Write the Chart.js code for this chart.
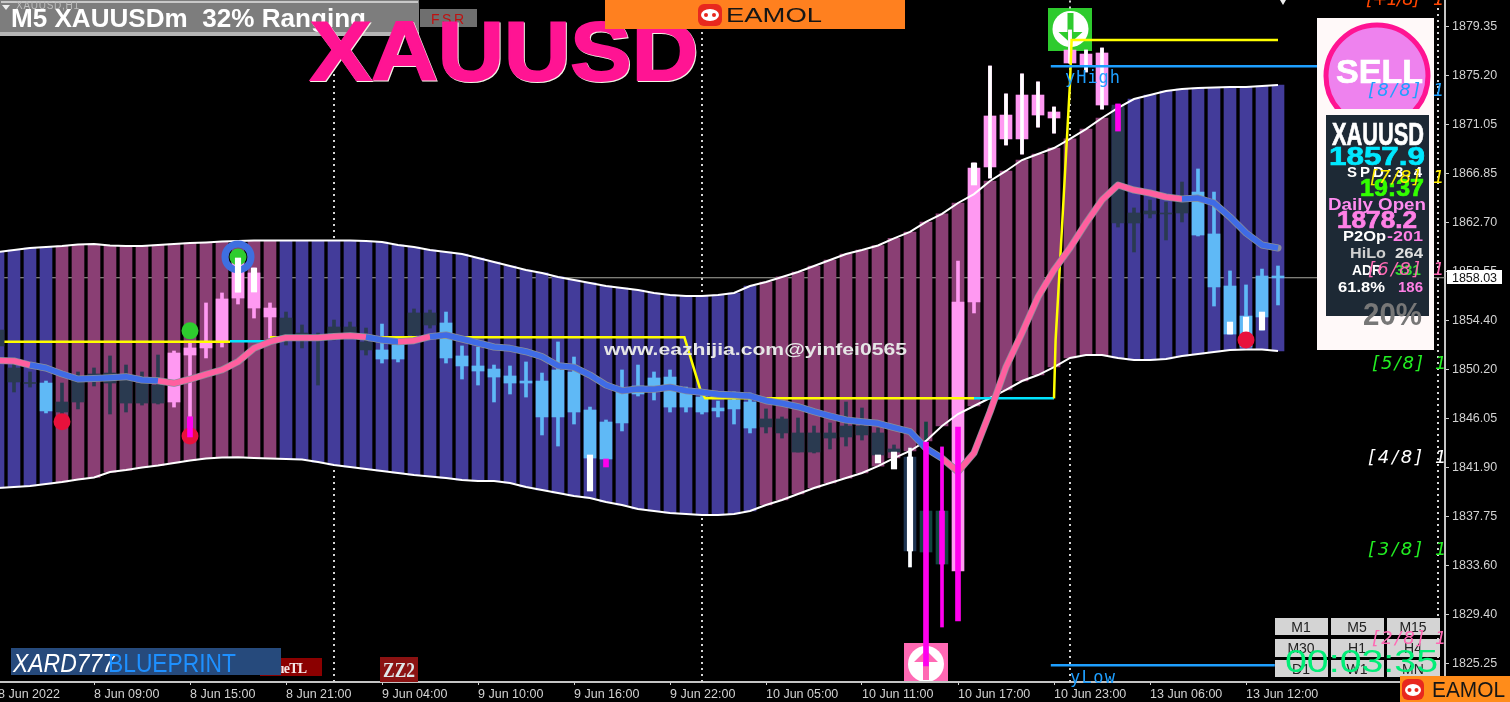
<!DOCTYPE html>
<html><head><meta charset="utf-8">
<style>
html,body{margin:0;padding:0;background:#000;width:1510px;height:702px;overflow:hidden}
#under,#over{position:absolute;left:0;top:0;width:1510px;height:702px}
#under{z-index:0}#over{z-index:2}
#c{position:absolute;left:-2px;top:0;z-index:1}
#under,#over,#c{filter:blur(.45px)}
text{font-family:"Liberation Sans",Arial,sans-serif}
.m{font-family:"DejaVu Sans",sans-serif;font-style:italic;font-size:18px}
.b{font-weight:bold}
.h{font-weight:bold;stroke-width:.7px}
</style>
<script src="https://cdn.jsdelivr.net/npm/chart.js@4"></script>
</head><body>
<svg id="under" viewBox="0 0 1510 702">
  <rect x="1048" y="8" width="44" height="43" fill="#2ecb2e"/>
  <circle cx="1070.5" cy="29" r="18" fill="#fff"/>
  <path d="M1067.500 13h6v19h9l-12 11-12-11h9z" fill="#2ecb2e"/>
  <rect x="904" y="643" width="44" height="39" fill="#ff69b4"/>
  <circle cx="926" cy="664" r="18" fill="#fff"/>
  <path d="M926 650l12 12h-9v18h-6v-18h-9z" fill="#ff69b4"/>
</svg>
<canvas id="c" width="1512" height="702" style="width:1512px;height:702px"></canvas>
<svg id="over" viewBox="0 0 1510 702">
  <defs><clipPath id="pa"><rect x="0" y="0" width="1444" height="702"/></clipPath></defs>
  <!-- header -->
  <rect x="420" y="9" width="57" height="18" fill="#6f6f6f"/>
  <text x="431" y="24" font-size="14" fill="#c01010" textLength="33">FSR</text>
  <rect x="0" y="0" width="419" height="36" fill="#7d7d7d"/>
  <rect x="1" y="1" width="417" height="2" fill="#c8c8c8"/>
  <rect x="0" y="32" width="419" height="4" fill="#b5b5b5"/>
  <text x="16" y="9" font-size="10" fill="#bdbdbd" textLength="63">XAUUSD,H1</text>
  <path d="M2 5h8l-4 5z" fill="#eee"/>
  <text class="b" x="11" y="27" font-size="25" fill="#fff" textLength="355" lengthAdjust="spacingAndGlyphs" xml:space="preserve">M5 XAUUSDm  32% Ranging</text>
  <!-- big title -->
  <text class="b" x="311" y="81" font-size="84" fill="#f4f4e8" stroke="#f4f4e8" stroke-width="2" textLength="388" lengthAdjust="spacingAndGlyphs">XAUUSD</text>
  <text class="b" x="310" y="80" font-size="84" fill="#ff1493" stroke="#ff1493" stroke-width="2" textLength="388" lengthAdjust="spacingAndGlyphs">XAUUSD</text>
  <!-- top logo -->
  <rect x="605" y="0" width="300" height="29" fill="#ff801f"/>
  <rect x="698" y="4" width="24" height="22" rx="6" fill="#e8281e"/>
  <ellipse cx="710" cy="15" rx="9" ry="6" fill="#fff"/>
  <circle cx="706" cy="15" r="2" fill="#e8281e"/><circle cx="714" cy="15" r="2" fill="#e8281e"/>
  <text x="726" y="22" font-size="20" fill="#161616" textLength="96" lengthAdjust="spacingAndGlyphs">EAMOL</text>
  <!-- watermark -->
  <text class="b" x="604" y="355" font-size="17" fill="#e6e6e6" textLength="303" lengthAdjust="spacingAndGlyphs">www.eazhijia.com@yinfei0565</text>
  <!-- yHigh yLow -->
  <text x="1065" y="83" font-size="17" fill="#1e9fff" textLength="55" style='font-family:"DejaVu Sans Mono"'>yHigh</text>
  <text x="1070" y="683" font-size="17" fill="#1e9fff" textLength="45" style='font-family:"DejaVu Sans Mono"'>yLow</text>
  <!-- bottom-left tags -->
  <rect x="260" y="658" width="62" height="18" fill="#8b0000"/>
  <text class="b" x="264" y="673" font-size="14" fill="#f5e6e6" textLength="43" style='font-family:"Liberation Serif"'>TrueTL</text>
  <rect x="380" y="657" width="38" height="25" fill="#8b1212"/>
  <text class="b" x="383" y="677" font-size="22" fill="#dfe8ea" textLength="32" lengthAdjust="spacingAndGlyphs" style='font-family:"Liberation Serif"'>ZZ2</text>
  <rect x="11" y="648" width="270" height="27" fill="#264a7c"/>
  <text x="13" y="672" font-size="25" font-style="italic" fill="#fff" textLength="102" lengthAdjust="spacingAndGlyphs">XARD777</text>
  <text x="108" y="672" font-size="25" fill="#1e90ff" textLength="128" lengthAdjust="spacingAndGlyphs">BLUEPRINT</text>
  <!-- sell panel -->
  <rect x="1317" y="18" width="117" height="332" fill="#fff9f9"/>
  <clipPath id="sc"><rect x="1317" y="18" width="117" height="91"/></clipPath>
  <circle cx="1377" cy="76" r="51" fill="#ee82ee" stroke="#ff1493" stroke-width="5" clip-path="url(#sc)"/>
  <text class="h" x="1336" y="83" font-size="33" fill="#fff" stroke="#fff" textLength="87" lengthAdjust="spacingAndGlyphs">SELL</text>
  <rect x="1326" y="115" width="103" height="201" fill="#1d2935"/>
  <text class="h" x="1332" y="145" font-size="32" fill="#fff" stroke="#fff" textLength="92" lengthAdjust="spacingAndGlyphs">XAUUSD</text>
  <text class="h" x="1329" y="165" font-size="26" fill="#00e8ff" stroke="#00e8ff" textLength="96" lengthAdjust="spacingAndGlyphs">1857.9</text>
  <text class="b" x="1347" y="177" font-size="15" fill="#fff" textLength="75" lengthAdjust="spacing">SPD:3.4</text>
  <text class="h" x="1360" y="196" font-size="23" fill="#33ff00" stroke="#33ff00" textLength="64" lengthAdjust="spacingAndGlyphs">19:37</text>
  <text class="b" x="1328" y="210" font-size="16" fill="#ff8cf0" textLength="98" lengthAdjust="spacingAndGlyphs">Daily Open</text>
  <text class="h" x="1337" y="228" font-size="23" fill="#ff80e6" stroke="#ff80e6" textLength="80" lengthAdjust="spacingAndGlyphs">1878.2</text>
  <text class="b" x="1343" y="241" font-size="15" fill="#fff" textLength="43" lengthAdjust="spacingAndGlyphs">P2Op</text>
  <text class="b" x="1387" y="241" font-size="15" fill="#ff80e6" textLength="36" lengthAdjust="spacingAndGlyphs">-201</text>
  <text class="b" x="1350" y="258" font-size="15" fill="#cfcfcf" textLength="36" lengthAdjust="spacingAndGlyphs">HiLo</text>
  <text class="b" x="1395" y="258" font-size="15" fill="#e0e0e0" textLength="28" lengthAdjust="spacingAndGlyphs">264</text>
  <text class="b" x="1352" y="275" font-size="15" fill="#fff" textLength="30" lengthAdjust="spacingAndGlyphs">ADR</text>
  <text class="b" x="1395" y="275" font-size="15" fill="#33dd33" textLength="26" lengthAdjust="spacingAndGlyphs">331</text>
  <text class="b" x="1338" y="292" font-size="15" fill="#fff" textLength="47" lengthAdjust="spacingAndGlyphs">61.8%</text>
  <text class="b" x="1398" y="292" font-size="15" fill="#ff80e6" textLength="25" lengthAdjust="spacingAndGlyphs">186</text>
  <text class="b" x="1363" y="325" font-size="31" fill="#777" textLength="59" lengthAdjust="spacingAndGlyphs">20%</text>
  <!-- buttons -->
  <g fill="#d4d4d4">
    <rect x="1275" y="618" width="53" height="17"/><rect x="1331" y="618" width="53" height="17"/><rect x="1387" y="618" width="53" height="17"/>
    <rect x="1275" y="639" width="53" height="18"/><rect x="1331" y="639" width="53" height="18"/><rect x="1387" y="639" width="53" height="18"/>
    <rect x="1275" y="660" width="53" height="17"/><rect x="1331" y="660" width="53" height="17"/><rect x="1387" y="660" width="53" height="17"/>
  </g>
  <g fill="#222" font-size="14" text-anchor="middle">
    <text x="1301" y="632">M1</text><text x="1357" y="632">M5</text><text x="1413" y="632">M15</text>
    <text x="1301" y="653">M30</text><text x="1357" y="653">H1</text><text x="1413" y="653">H4</text>
    <text x="1301" y="674">D1</text><text x="1357" y="674">W1</text><text x="1413" y="674">MN</text>
  </g>
  <!-- murrey labels -->
  <g clip-path="url(#pa)">
    <text class="m" x="1366" y="5" fill="#ff4500" textLength="54">[+1/8]</text><text class="m" x="1433" y="5" fill="#ff4500">1879.69</text>
    <text class="m" x="1368" y="96" fill="#1e9fff" textLength="52">[8/8]</text><text class="m" x="1433" y="96" fill="#1e9fff">1875.00</text>
    <text class="m" x="1370" y="183" fill="#ffee00" textLength="50">[7/8]</text><text class="m" x="1433" y="183" fill="#ffee00">1867.19</text>
    <text class="m" x="1368" y="275" fill="#ff69b4" textLength="52">[6/8]</text><text class="m" x="1433" y="275" fill="#ff69b4">1859.38</text>
    <text class="m" x="1372" y="369" fill="#22ee22" textLength="51">[5/8]</text><text class="m" x="1435" y="369" fill="#22ee22">1851.56</text>
    <text class="m" x="1368" y="463" fill="#fff" textLength="54">[4/8]</text><text class="m" x="1435" y="463" fill="#fff">1843.75</text>
    <text class="m" x="1368" y="555" fill="#22ee22" textLength="54">[3/8]</text><text class="m" x="1435" y="555" fill="#22ee22">1835.94</text>
    <text class="m" x="1372" y="644" fill="#ff69b4" textLength="52">[2/8]</text><text class="m" x="1435" y="644" fill="#ff69b4">1828.13</text>
  </g>
  <!-- clock -->
  <text x="1285" y="672" font-size="32" fill="#00ee77" textLength="153" lengthAdjust="spacingAndGlyphs">00:03:35</text>
  <!-- price tag -->
  <rect x="1447" y="270" width="55" height="14" fill="#fff"/>
  <text x="1452" y="281.500" font-size="12.500" fill="#111" textLength="45">1858.03</text>
  <!-- bottom logo -->
  <rect x="1400" y="676" width="110" height="26" fill="#ff8c1a"/>
  <rect x="1402" y="679" width="22" height="21" rx="6" fill="#e8281e"/>
  <ellipse cx="1413" cy="690" rx="8" ry="6" fill="#fff"/>
  <circle cx="1409.500" cy="690" r="2" fill="#e8281e"/><circle cx="1416.500" cy="690" r="2" fill="#e8281e"/>
  <text x="1432" y="697" font-size="22" fill="#161616" textLength="73" lengthAdjust="spacingAndGlyphs">EAMOL</text>
  <path d="M1280 0h6l-3 5z" fill="#eee"/>
</svg>
<script>
// ---------- axes ----------
const xTickIndex = [0,6,12,18,24,30,36,42,48,54,60,66,72,78];
const xTickLabels = ["8 Jun 2022","8 Jun 09:00","8 Jun 15:00","8 Jun 21:00","9 Jun 04:00","9 Jun 10:00","9 Jun 16:00","9 Jun 22:00","10 Jun 05:00","10 Jun 11:00","10 Jun 17:00","10 Jun 23:00","13 Jun 06:00","13 Jun 12:00"];
const yTickValues = [1879.35,1875.20,1871.05,1866.85,1862.70,1858.55,1854.40,1850.20,1846.05,1841.90,1837.75,1833.60,1829.40,1825.25];
const yMin = 1823.70, yMax = 1881.62, xMin = 0, xMax = 90.4375;
// ---------- envelope band ----------
const bandUpper = [1860.22,1860.39,1860.56,1860.64,1860.73,1860.86,1860.90,1860.77,1860.73,1860.73,1860.81,1860.90,1860.98,1861.03,1861.11,1861.15,1861.20,1861.20,1861.20,1861.20,1861.20,1861.20,1861.20,1861.15,1861.07,1860.81,1860.64,1860.39,1860.22,1860.05,1859.71,1859.37,1859.03,1858.69,1858.44,1858.10,1857.84,1857.59,1857.33,1857.16,1856.99,1856.74,1856.57,1856.48,1856.48,1856.57,1856.74,1857.33,1857.67,1858.10,1858.52,1859.03,1859.54,1860.05,1860.39,1860.77,1861.37,1861.92,1862.77,1863.45,1864.38,1865.14,1866.25,1867.10,1868.03,1868.54,1869.05,1869.82,1870.66,1871.60,1872.45,1873.21,1873.55,1873.89,1874.06,1874.15,1874.19,1874.23,1874.23,1874.32,1874.40];
const bandLower = [1840.18,1840.26,1840.35,1840.52,1840.69,1840.90,1841.07,1841.53,1841.70,1841.92,1842.09,1842.30,1842.51,1842.68,1842.77,1842.78,1842.72,1842.68,1842.64,1842.60,1842.38,1842.13,1841.96,1841.79,1841.62,1841.45,1841.28,1841.15,1841.02,1840.86,1840.77,1840.77,1840.60,1840.26,1840.01,1839.75,1839.50,1839.33,1838.99,1838.73,1838.39,1838.22,1838.05,1837.97,1837.88,1837.88,1837.97,1838.22,1838.73,1839.16,1839.67,1840.18,1840.60,1841.02,1841.45,1842.04,1842.72,1843.32,1844.17,1845.44,1846.46,1847.14,1847.82,1848.50,1849.26,1849.77,1850.45,1851.22,1851.47,1851.47,1851.22,1851.05,1851.05,1851.13,1851.39,1851.56,1851.73,1851.90,1851.94,1851.94,1851.81];
const bandMauveRanges = [[4,17],[48,69]];
// ---------- candles ----------
const bodyTop = [1853.59,1850.37,1849.14,1849.09,1847.48,1849.60,1849.86,1849.94,1849.77,1849.09,1848.92,1851.64,1852.07,1852.49,1856.23,1859.54,1858.44,1855.46,1854.61,1853.34,1853.17,1853.85,1853.85,1852.58,1851.90,1852.32,1855.04,1855.04,1854.19,1851.39,1850.54,1850.28,1849.69,1849.26,1849.26,1850.20,1850.03,1846.80,1845.78,1848.67,1848.84,1849.52,1849.60,1848.50,1847.90,1846.97,1847.65,1847.48,1846.04,1846.04,1844.85,1844.85,1844.85,1845.44,1845.44,1844.85,1843.49,1842.81,1838.22,1838.22,1855.97,1867.35,1871.77,1871.85,1873.55,1873.55,1872.11,1877.37,1877.03,1877.12,1872.70,1863.53,1863.70,1863.53,1864.89,1865.31,1861.75,1857.33,1854.78,1858.18,1858.18];
const bodyBottom = [1852.24,1849.18,1849.05,1846.72,1846.63,1847.48,1849.26,1849.09,1847.39,1847.39,1847.39,1847.48,1851.47,1852.07,1852.58,1856.31,1855.46,1854.70,1853.17,1853.17,1853.00,1853.34,1853.34,1851.90,1851.13,1851.13,1853.17,1854.02,1851.22,1850.54,1850.11,1849.60,1849.09,1849.09,1846.21,1846.21,1846.63,1842.72,1842.64,1845.70,1848.16,1848.84,1847.05,1847.05,1846.63,1846.72,1846.89,1845.27,1845.36,1844.85,1843.23,1843.23,1844.42,1844.51,1844.68,1842.98,1843.23,1834.83,1834.74,1833.72,1833.13,1855.97,1867.44,1869.82,1869.82,1871.85,1871.60,1876.27,1876.10,1872.70,1862.68,1862.68,1863.45,1863.45,1863.53,1861.66,1857.25,1853.25,1852.15,1854.70,1858.01];
const wickHigh = [1854.02,1851.05,1850.03,1849.26,1849.09,1850.03,1850.37,1851.39,1850.62,1850.03,1851.47,1851.81,1852.58,1855.89,1856.74,1859.88,1858.86,1855.89,1855.12,1854.02,1853.34,1854.44,1854.27,1853.76,1854.10,1853.00,1855.38,1855.29,1855.12,1852.24,1852.15,1850.62,1850.54,1850.88,1849.94,1852.58,1851.30,1847.05,1845.95,1850.20,1850.62,1850.03,1850.20,1848.75,1848.50,1847.56,1848.33,1848.24,1846.89,1846.21,1846.12,1845.44,1845.70,1847.48,1846.97,1845.27,1843.83,1843.57,1845.78,1843.66,1859.45,1867.78,1876.01,1873.64,1875.34,1874.66,1872.53,1879.07,1877.37,1877.54,1872.79,1863.96,1864.63,1864.46,1866.16,1867.27,1865.31,1858.61,1857.42,1858.77,1859.03];
const wickLow = [1851.90,1848.33,1848.75,1846.55,1846.12,1846.89,1848.84,1846.46,1846.63,1847.22,1847.31,1847.05,1844.51,1851.22,1852.15,1855.80,1854.61,1852.91,1852.32,1852.07,1848.92,1852.75,1853.17,1851.47,1850.79,1850.88,1852.75,1853.76,1850.79,1849.43,1848.92,1847.48,1848.16,1847.90,1844.68,1843.74,1845.61,1842.55,1842.38,1845.02,1847.99,1847.65,1846.63,1846.63,1846.46,1846.21,1845.61,1844.85,1844.85,1844.42,1843.23,1843.15,1843.49,1843.74,1844.25,1842.30,1843.23,1833.47,1834.40,1833.72,1832.79,1855.04,1866.50,1869.31,1868.54,1870.83,1870.32,1876.27,1875.51,1872.36,1862.34,1860.22,1863.11,1861.24,1862.77,1861.58,1855.63,1853.25,1852.15,1853.59,1855.72];
// candle colour class per bar: D dark, B blue, P pink, N navy, T teal
const candleKind = ["DDD","B","DDDDDDD","PPPPPPP","DDDDDD","BB","DD","BBBBBBBBBBBBBBBBBBBB","DDDDDDDDD","N","TT","PPPPPPPPPP","DDDDD","BBBBBB"].join("");
// ---------- overlay sticks ----------
const whiteThick = [[15,1859.71,1856.82],[16,1858.86,1856.82],[37,1842.98,1839.92],[55,1842.98,1842.30],[56,1843.23,1841.79],[57,1842.81,1834.83],[61,1867.78,1865.91],[77,1854.27,1853.25],[78,1854.70,1852.49],[79,1855.12,1853.59]];
const whiteThin = [[57,1843.57,1833.47],[62,1876.01,1866.50],[63,1873.64,1869.31],[64,1875.34,1868.54],[65,1874.66,1870.83],[66,1872.53,1870.32],[67,1879.07,1876.27],[68,1877.37,1875.51],[69,1877.54,1872.36]];
const magentaThick = [[12,1846.21,1844.51],[38,1842.64,1841.96],[58,1844.08,1825.06],[59,1838.22,1833.72],[60,1845.36,1828.88],[70,1872.79,1870.49]];
const magentaThin = [[59,1843.66,1828.37]];
// ---------- moving-average line ----------
const maLine = [1851.00,1850.96,1850.62,1850.37,1849.86,1849.43,1849.48,1849.54,1849.63,1849.35,1849.29,1849.07,1849.41,1849.83,1850.20,1850.90,1852.04,1852.60,1852.94,1852.94,1852.94,1853.04,1853.11,1853.00,1852.75,1852.60,1852.69,1853.03,1853.17,1852.83,1852.49,1852.15,1852.04,1851.75,1851.33,1850.56,1850.43,1849.77,1848.92,1848.44,1848.58,1848.56,1848.73,1848.44,1848.30,1848.13,1848.07,1847.99,1847.59,1847.37,1847.08,1846.66,1846.29,1845.95,1845.81,1845.67,1845.30,1844.96,1843.55,1842.70,1841.56,1843.15,1846.63,1850.45,1853.34,1856.40,1858.69,1860.56,1862.68,1864.63,1865.91,1865.48,1865.23,1864.89,1864.72,1864.80,1864.38,1863.19,1861.83,1860.81,1860.56];
const maBlueRanges = [[2,10],[23,25],[27,59],[74,80]];
// ---------- stepped levels ----------
const yellowX1 = [0.4,14.5], yellowY1 = [1852.60,1852.60];
const cyanX1 = [14.5,17], cyanY1 = [1852.64,1852.64];
const yellowX2 = [17,42.9,43.9,44.2,61], yellowY2 = [1852.97,1852.97,1848.50,1847.79,1847.79];
const cyanX2 = [61,66], cyanY2 = [1847.79,1847.79];
const yellowX3 = [66,66.1,66.4,67,67.1,80], yellowY3 = [1847.79,1852.74,1859.88,1874.57,1878.22,1878.22];
const yHighX = [65.8,82.5], yHighY = [1875.99,1875.99];
const yLowX = [65.8,79.8], yLowY = [1825.12,1825.12];
const bidPrice = 1858.03;
const vLines = [[21,yMin,yMax],[44,yMin,yMax],[67,yMin,1877.3],[67,1880.9,yMax],[90,yMin,yMax]];
// ---------- dots ----------
const redDots = [[4,1845.80],[12,1844.59],[78,1852.75]];
const greenDots = [[12,1853.52],[15,1859.80]];
const ringDots = [[15,1859.80]];

const inR = (r,i)=>r.some(a=>i>=a[0]&&i<=a[1]);
const idx = bandUpper.map((_,i)=>i);
const kindCol = {D:'#2a3a50',B:'#5fb9f6',P:'#ff99f2',N:'#1d3350',T:'#12443f'};
let ord = 100;
const bar = (data,color,w)=>({type:'bar',data,backgroundColor:color,barThickness:w,grouped:false,borderWidth:0,order:ord--});
const line = (xs,ys,color,w,extra={})=>({type:'line',data:xs.map((x,i)=>({x,y:ys[i]})),borderColor:color,borderWidth:w,pointRadius:0,fill:false,tension:0,order:ord--,...extra});
const sticks = a=>a.map(s=>({x:s[0],y:[s[2],s[1]]}));
const dots = (a,color,r,extra={})=>({type:'line',data:a.map(p=>({x:p[0],y:p[1]})),showLine:false,pointRadius:r,pointBackgroundColor:color,pointBorderWidth:0,order:ord--,...extra});

const datasets = [];
vLines.forEach(v=>datasets.push(line([v[0],v[0]],[v[1],v[2]],'#d4d4d4',2,{borderDash:[2,4]})));
datasets.push(line([xMin,xMax],[bidPrice,bidPrice],'#a8a8a0',1.2));
datasets.push(bar(idx.map(i=>({x:i,y:[bandLower[i],bandUpper[i]]})),idx.map(i=>inR(bandMauveRanges,i)?'#8a3f74':'#433c9a'),12));
datasets.push(bar(idx.map(i=>({x:i,y:[wickLow[i],wickHigh[i]]})),idx.map(i=>kindCol[candleKind[i]]),3));
datasets.push(bar(idx.map(i=>({x:i,y:[bodyBottom[i],bodyTop[i]]})),idx.map(i=>kindCol[candleKind[i]]),12));
datasets.push(bar(sticks(whiteThin),'#ffffff',3));
datasets.push(bar(sticks(whiteThick),'#ffffff',5.5));
datasets.push(line(idx,bandUpper,'#ffffff',2));
datasets.push(line(idx,bandLower,'#ffffff',2));
datasets.push(line(yellowX1,yellowY1,'#ffff00',2.5));
datasets.push(line(cyanX1,cyanY1,'#00e5ff',2.5));
datasets.push(line(yellowX2,yellowY2,'#ffff00',2.5));
datasets.push(line(cyanX2,cyanY2,'#00e5ff',2.5));
datasets.push(line(yellowX3,yellowY3,'#ffff00',2.5));
datasets.push(line(yHighX,yHighY,'#1e9fff',2.5));
datasets.push(line(yLowX,yLowY,'#1e9fff',2.5));
datasets.push(line(idx,maLine,'#8a8f9a',7,{borderJoinStyle:'round',borderCapStyle:'round'}));
datasets.push(line(idx,maLine,'#ff5f9f',5.5,{borderJoinStyle:'round',segment:{borderColor:c=>inR(maBlueRanges,c.p0DataIndex)&&inR(maBlueRanges,c.p1DataIndex)?'#3f6be6':'#ff5f9f'}}));
datasets.push(bar(sticks(magentaThin),'#ff00ee',3));
datasets.push(bar(sticks(magentaThick),'#ff00ee',5));
datasets.push(dots(ringDots,'rgba(0,0,0,0)',13,{pointBorderColor:'#3f6fe0',pointBorderWidth:7}));
datasets.push(dots(greenDots,'#2ecc2e',8.5));
datasets.push(dots(redDots,'#e8113c',8.5));
// white stick of bar 15 sits above its green dot
datasets.push(bar(sticks(whiteThick.filter(s=>s[0]==15)),'#ffffff',5.5));
datasets.push(bar(sticks(magentaThick.filter(s=>s[0]==12)),'#ff00ee',5));

const axisFont = {family:'"Liberation Sans",Arial,sans-serif'};
new Chart(document.getElementById('c'),{
  type:'bar',
  data:{datasets},
  options:{
    responsive:false,animation:false,devicePixelRatio:1,
    layout:{padding:0,autoPadding:false},
    plugins:{legend:{display:false},tooltip:{enabled:false}},
    events:[],
    scales:{
      x:{type:'linear',offset:false,min:xMin,max:xMax,
        grid:{drawOnChartArea:false,offset:false,color:'#cfcfcf',tickLength:3,tickWidth:1},
        border:{color:'#c4c4c4',width:2},
        afterBuildTicks:s=>{s.ticks=xTickIndex.map(v=>({value:v}))},
        afterFit:s=>{s.height=20;s.paddingLeft=0;s.paddingRight=0},
        ticks:{autoSkip:false,maxRotation:0,minRotation:0,align:'start',padding:2,color:'#d2d2d2',font:{...axisFont,size:12.5},
          callback:(v,i)=>xTickLabels[i]}
      },
      y:{type:'linear',position:'right',min:yMin,max:yMax,
        grid:{drawOnChartArea:false,color:'#cfcfcf',tickLength:4,tickWidth:1},
        border:{color:'#c4c4c4',width:2},
        afterBuildTicks:s=>{s.ticks=yTickValues.map(v=>({value:v}))},
        afterFit:s=>{s.width=65;s.paddingTop=0;s.paddingBottom=0},
        ticks:{autoSkip:false,padding:3,color:'#d2d2d2',font:{...axisFont,size:12.5},
          callback:v=>v.toFixed(2)}
      }
    }
  }
});
</script>
</body></html>
